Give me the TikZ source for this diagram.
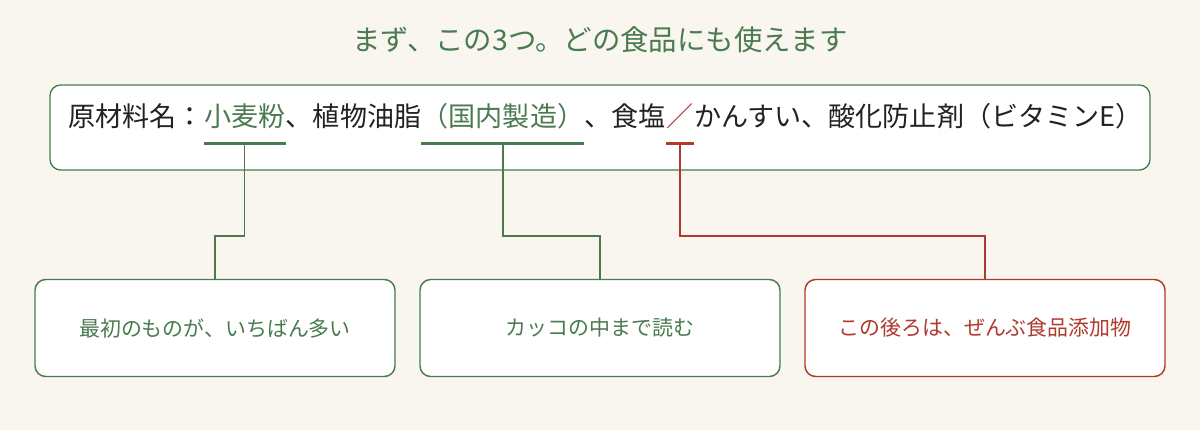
\documentclass[tikz,border=0pt]{standalone}
\usepackage{fontspec}
\setmainfont{Noto Sans CJK JP}
\definecolor{bg}{HTML}{F9F6EF}
\definecolor{gr}{HTML}{4A7A50}
\definecolor{rd}{HTML}{B0392E}
\definecolor{tx}{HTML}{222222}
\begin{document}
\begin{tikzpicture}[x=0.75pt,y=-0.75pt,
  seg/.style={inner sep=0pt,anchor=base west,font=\fontsize{20.3}{23}\selectfont,text=tx},
  box/.style={draw=#1,line width=1.1pt,rounded corners=8pt,fill=white},
  lbl/.style={font=\fontsize{15.7}{18}\selectfont,text=#1},
  ul/.style={draw=#1,line width=2.4pt},
  con/.style={draw=#1,line width=1pt}]
\fill[bg] (0,0) rectangle (1200,430);
\useasboundingbox (0,0) rectangle (1200,430);
\node[font=\fontsize{21.3}{25}\selectfont,text=gr] (title) at (600,40) {まず、この3つ。どの食品にも使えます};
\draw[box=gr,line width=1pt] (50,85) rectangle (1150,170);
\node[seg] (s1) at (68,126) {原材料名：};
\node[seg,text=gr] (s2) at (s1.base east) {小麦粉};
\node[seg] (s3) at (s2.base east) {、植物油脂};
\node[seg,text=gr] (s4) at (s3.base east) {（国内製造）};
\node[seg] (s5) at (s4.base east) {、食塩};
\node[seg,text=rd] (s6) at (s5.base east) {／};
\node[seg] (s7) at (s6.base east) {かんすい、酸化防止剤（ビタミンE）};
\coordinate (u2) at ([yshift=-13pt]s2.base);
\coordinate (u4) at ([yshift=-13pt]s4.base);
\coordinate (u6) at ([yshift=-13pt]s6.base);
\draw[ul=gr] ([yshift=-13pt]s2.base west) -- ([yshift=-13pt]s2.base east);
\draw[ul=gr] ([yshift=-13pt]s4.base west) -- ([yshift=-13pt]s4.base east);
\draw[ul=rd] ([yshift=-13pt]s6.base west) -- ([yshift=-13pt]s6.base east);
\node[box=gr,minimum width=270pt,minimum height=72.75pt] (b1) at (215,328) {};
\node[box=gr,minimum width=270pt,minimum height=72.75pt] (b2) at (600,328) {};
\node[box=rd,minimum width=270pt,minimum height=72.75pt] (b3) at (985,328) {};
\node[lbl=gr] (t1) at (b1) {最初のものが、いちばん多い};
\node[lbl=gr] (t2) at (b2) {カッコの中まで読む};
\node[lbl=rd] (t3) at (b3) {この後ろは、ぜんぶ食品添加物};
\coordinate (k1) at (u2 |- 0,236);
\coordinate (k2) at (u4 |- 0,236);
\coordinate (k3) at (u6 |- 0,236);
\draw[con=gr] (u2) -- (k1) -- (k1 -| b1.north) -- (b1.north);
\draw[con=gr] (u4) -- (k2) -- (k2 -| b2.north) -- (b2.north);
\draw[con=rd] (u6) -- (k3) -- (k3 -| b3.north) -- (b3.north);
\end{tikzpicture}
\end{document}
